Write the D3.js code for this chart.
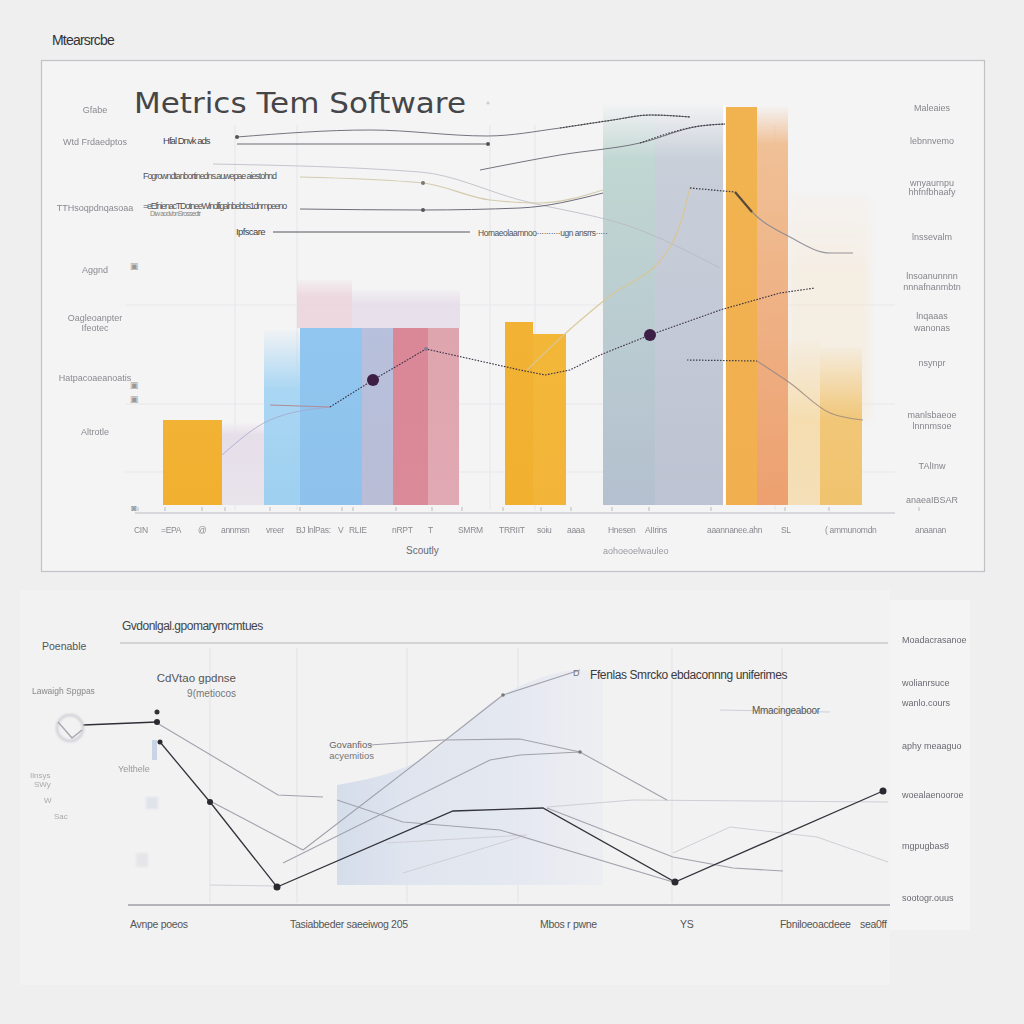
<!DOCTYPE html>
<html><head><meta charset="utf-8">
<script src="https://cdn.jsdelivr.net/npm/d3@7"></script>
<style>html,body{margin:0;padding:0;background:#efeff0;}svg{display:block;}</style>
</head><body><div id="chart"></div>
<script>
// ---------- TOP CHART DATA ----------
const barCategories = ["CIN","EPA","Annmsn","vreer","BJ","RLIE","nRPT","TRRIIT","soiu","Hnesen","AIIrins","aaann","SL","ammun","anaan"];
const barStart  = [2.8, 8.7, 12.9, 16.5, 22.7, 25.8, 29.3, 37.0, 39.8, 46.8, 52.0, 59.1, 62.2, 65.3, 68.5];
const barEnd    = [8.7, 12.9, 16.5, 22.7, 25.8, 29.3, 32.4, 39.8, 43.1, 52.0, 58.8, 62.2, 65.3, 68.5, 72.7];
const barValue  = [17, 14, 23, 35.4, 35.4, 35.4, 35.4, 36.6, 34.2, 69, 69, 79.6, 72, 17, 17];
const barFade   = [17, 16.5, 35, 35.4, 35.4, 35.4, 35.4, 36.6, 34.2, 80, 80, 79.6, 79.6, 33, 31.4];
const ghostStart = [16.2, 21.7, 50.0, 65.3];
const ghostEnd   = [21.7, 32.5, 55.5, 73.5];
const ghostLow   = [35.4, 35.4, 0, 17];
const ghostHigh  = [45, 43, 21, 62];

const lineMain  = [[13.5,20],[19.5,19.6],[23.8,25],[29.1,31.2],[38.5,27],[41,26],[43.5,27],[46.5,30],[51.5,34],[58.5,39],[64.5,42.4],[68,43.4]];
const lineMainLead = [[8.7,10],[13.5,17],[19.5,19.6]];
const mainDots = [2, 8];
const lineA  = [[10.2,73.6],[23.5,75],[35.2,73.8],[42.5,75.4],[47.8,77],[51.5,78],[55.5,77.6]];
const lineA2 = [[34.5,67],[42.5,70],[50.5,72.4],[56.5,75.8],[59,76.2]];
const lineB  = [[10.2,72.2],[35.3,72.2]];
const lineC  = [[7.8,68.2],[28.5,66.6],[38.5,61],[50.5,55],[58.5,47.4]];
const lineD  = [[16.5,65.6],[28.8,64.4],[35.5,61],[40.5,60.4],[46.8,63]];
const lineE  = [[16.5,59.2],[28.8,59],[38.5,59.4],[46.8,62.4]];
const lineF  = [[13.8,54.6],[33.5,54.6]];
const lineYel = [[39.2,27],[43.2,34.6],[47.2,41.4],[53.5,51.6],[55.2,61],[55.5,63.6]];
const lineR1 = [[55.5,63.4],[60,62.6],[61.7,58.6],[65.5,53.6],[69.5,50.4],[71.8,50.4]];
const lineR2 = [[55.2,29],[62.2,28.8],[65.5,24.4],[69.5,18.4],[72.8,17]];

const topTickLabels = [["CIN",-0.1],["=EPA",2.6],["@",6.3],["annmsn",8.6],["vreer",13.1],["BJ lnlPas:",16.1],["V",20.3],["RLIE",21.4],["nRPT",25.7],["T",29.3],["SMRM",32.3],["TRRIIT",36.4],["soiu",40.2],["aaaa",43.2],["Hnesen",47.3],["AIIrins",51],["aaannanee.ahn",57.2],["SL",64.6],["( ammunomdn",69],["anaanan",78]];
const topLeftLabels = [["Gfabe",79],["Wtd Frdaedptos",72.6],["TTHsoqpdnqasoaa",59.4],["Aggnd",47],["Oagleoanpter",37.4],["Ifeotec",35.4],["Hatpacoaeanoatis",25.4],["Altrotle",14.6]];
const topRightLabels = [["Maleaies",79.4],["lebnnvemo",72.8],["wnyaurnpu",64.4],["hhfnfbhaafy",62.6],["lnssevalm",53.6],["lnsoanunnnn",45.8],["nnnafnanmbtn",43.6],["lnqaaas",37.8],["wanonas",35.4],["nsynpr",28.4],["manlsbaeoe",18],["lnnnmsoe",15.8],["TAlInw",7.8],["anaeaIBSAR",1]];

// ---------- BOTTOM CHART DATA ----------
const lowDark1 = [[-4.5,36],[2.9,36.6]];
const lowDark2 = [[3.2,32.6],[8.2,20.6],[14.9,3.6],[32.5,18.8],[41.5,19.4],[54.7,4.6],[75.5,22.8]];
const lowGray = [
  [[2.9,36.4],[15,22],[19.5,21.6]],
  [[8.4,20.6],[17.5,11]],
  [[17.5,11],[29.2,29],[37.5,42],[45.2,47]],
  [[15.5,8.4],[36.2,29],[39.2,30],[45.2,30.6],[53.9,21]],
  [[24.2,32],[31.5,33],[39.2,33.2],[45.2,30.6]],
  [[41.9,19.4],[54.5,9.6],[60.5,7.4],[65.5,6.8]],
  [[20.9,21],[27.5,16.6],[37.2,15],[54.5,4.6]]
];
const lowFaint = [
  [[41.9,19.6],[50.5,21],[76,20.6]],
  [[54.5,10.4],[60.2,15.6],[68.9,13.6],[76,8.6]],
  [[27.5,6.4],[39.2,13.6]],
  [[25.9,12.4],[39.9,14]],
  [[8.2,4],[14.9,3.8]],
  [[59.2,39],[70.2,38.6]]
];
const shadeArea = [[20.9,24],[29.2,29],[37.5,42],[45.2,47],[47.5,46]];
const lowGridX = [8.2, 16.9, 27.9, 39, 54.4, 65.4];
const lowBottomLabels = [["Avnpe poeos",0.2],["Tasiabbeder saeeiwog  205",16.2],["Mbos r pwne",41.2],["YS",55.2],["Fbniloeoacdeee",65.2],["sea0ff",73.2]];
const lowRightLabels = [["Moadacrasanoe",53],["wolianrsuce",44.4],["wanlo.cours",40.4],["aphy meaaguo",31.8],["woealaenooroe",22],["mgpugbas8",11.8],["sootogr.ouus",1.4]];

// ---------- DRAW ----------
const W = 1024, H = 1024;
const FONT = "'Liberation Sans', Arial, sans-serif";
const svg = d3.select("#chart").append("svg").attr("width", W).attr("height", H)
  .style("font-family", FONT);
const defs = svg.append("defs");
defs.append("filter").attr("id","blur").append("feGaussianBlur").attr("stdDeviation",0.55);
defs.append("filter").attr("id","blur2").append("feGaussianBlur").attr("stdDeviation",1.1);
defs.append("filter").attr("id","soft").append("feGaussianBlur").attr("stdDeviation",4);

svg.append("rect").attr("width",W).attr("height",H).attr("fill","#efeff0");
svg.append("rect").attr("x",20).attr("y",590).attr("width",870).attr("height",395).attr("fill","#f2f2f3");
svg.append("rect").attr("x",890).attr("y",600).attr("width",80).attr("height",330).attr("fill","#f4f4f5");
svg.append("rect").attr("x",41.5).attr("y",60.5).attr("width",943).attr("height",511)
  .attr("fill","#f4f4f5").attr("stroke","#c2c2c6").attr("stroke-width",1.2);

svg.append("text").attr("x",52).attr("y",45).attr("font-size",14).attr("fill","#333")
  .attr("letter-spacing",-0.8).text("Mtearsrcbe");

// scales top
const xT = d3.scaleLinear().domain([0,76]).range([135,895]);
const yT = d3.scaleLinear().domain([0,81]).range([505,100]);

const g = svg.append("g");
// gridlines
[10, 16.2, 35.5, 40, 64].forEach(u => g.append("line").attr("x1",xT(u)).attr("x2",xT(u))
  .attr("y1",yT(76)).attr("y2",yT(-1)).attr("stroke","#e6e6ea").attr("stroke-width",1));
[20.2, 6.6, 40].forEach(v => g.append("line").attr("x1",xT(-1)).attr("x2",xT(76))
  .attr("y1",yT(v)).attr("y2",yT(v)).attr("stroke","#e8e8ec"));

// ghost bars
const ghostColors = ["#ecd3dc","#e5dbe7","#cfb9c7","#f7e6cf"];
const ghostOp = [0.85, 0.8, 0.6, 0.45];
ghostStart.forEach((s,i)=>{
  const id = "gh"+i;
  const lg = defs.append("linearGradient").attr("id",id).attr("x1",0).attr("y1",0).attr("x2",0).attr("y2",1);
  lg.append("stop").attr("offset","0%").attr("stop-color",ghostColors[i]).attr("stop-opacity",0.15);
  lg.append("stop").attr("offset","35%").attr("stop-color",ghostColors[i]).attr("stop-opacity",ghostOp[i]);
  lg.append("stop").attr("offset","100%").attr("stop-color",ghostColors[i]).attr("stop-opacity",ghostOp[i]);
  g.append("rect").attr("x",xT(s)).attr("width",xT(ghostEnd[i])-xT(s))
    .attr("y",yT(ghostHigh[i])).attr("height",yT(ghostLow[i])-yT(ghostHigh[i]))
    .attr("fill",`url(#${id})`).attr("filter", i===3 ? "url(#soft)" : null);
});

// bars
const barTop = ["#f2b233","#e6dfe9","#a9d6f3","#90c6ef","#b7c0dc","#da8797","#dfa5af","#f2b233","#f3b738","#c0d7d2","#c8cfd9","#f1b350","#f0c096","#f5ddb0","#f1c677"];
const barBot = ["#f1b030","#e9e3ec","#9fd0f0","#8ec2ec","#b9bdd6","#db8a99","#e1a9b3","#f1b030","#f2b53a","#b4c0cf","#bec3d3","#f2af50","#eda070","#f4dfb8","#f0c46e"];
barStart.forEach((s,i)=>{
  const id = "bg"+i;
  const top = barFade[i], solid = barValue[i];
  const lg = defs.append("linearGradient").attr("id",id).attr("x1",0).attr("y1",0).attr("x2",0).attr("y2",1);
  const frac = top > 0 ? (top - solid) / top : 0;
  lg.append("stop").attr("offset","0%").attr("stop-color",barTop[i]).attr("stop-opacity", frac > 0.001 ? 0.05 : 1);
  lg.append("stop").attr("offset",(frac*100)+"%").attr("stop-color",barTop[i]).attr("stop-opacity",1);
  lg.append("stop").attr("offset","100%").attr("stop-color",barBot[i]).attr("stop-opacity",1);
  g.append("rect").attr("x",xT(s)).attr("width",xT(barEnd[i])-xT(s))
    .attr("y",yT(top)).attr("height",yT(0)-yT(top)).attr("fill",`url(#${id})`);
});
// white separator between tall bars
g.append("line").attr("x1",xT(58.95)).attr("x2",xT(58.95)).attr("y1",yT(80)).attr("y2",yT(0))
  .attr("stroke","#ffffff").attr("stroke-width",2);

// axis
g.append("line").attr("x1",135).attr("x2",895).attr("y1",yT(-1.6)).attr("y2",yT(-1.6)).attr("stroke","#cfcfd3").attr("stroke-width",1.3);

const line = d3.line().x(d=>xT(d[0])).y(d=>yT(d[1])).curve(d3.curveMonotoneX);
const lineLin = d3.line().x(d=>xT(d[0])).y(d=>yT(d[1]));
function path(data, gen, stroke, w, dash, op){
  return g.append("path").attr("d",gen(data)).attr("fill","none").attr("stroke",stroke)
    .attr("stroke-width",w).attr("stroke-dasharray",dash||null).attr("opacity",op==null?1:op);
}
path(lineC, line, "#b9b9c3", 1, null, 0.8);
path(lineD, line, "#cfc6a4", 1.2, null, 0.9);
path(lineA, line, "#6e6e78", 1, null, 0.95);
path(lineA.slice(3), line, "#444", 1.2, "1.5,1.5");
path(lineA2, line, "#74747e", 1);
path(lineA2.slice(2), line, "#3a3a44", 1.2, "1.5,1.5");
path(lineB, lineLin, "#6a6a74", 1);
path(lineE, line, "#6d6d78", 1);
path(lineF, lineLin, "#55555f", 1);
path(lineYel, line, "#d8c795", 1.3, null, 0.9);
path(lineR1.slice(0,2), lineLin, "#3c3c44", 1.3, "1.5,1.5");
path(lineR1.slice(1), line, "#8b8a8f", 1.1, null, 0.9);
g.append("path").attr("d", lineLin([lineR1[1], lineR1[2]])).attr("stroke","#5a4a3a").attr("stroke-width",2.2);
path(lineR2.slice(0,2), lineLin, "#3c3c44", 1.2, "1.5,1.5");
path(lineR2.slice(1), line, "#9a8a80", 1.1, null, 0.85);
path(lineMainLead, line, "#a6a6cc", 1, null, 0.8);
path(lineMain.slice(0,2), lineLin, "#b08a98", 1.2);
path(lineMain.slice(1), lineLin, "#3a3044", 1.1, "1.6,1.4");
mainDots.forEach(i=>g.append("circle").attr("cx",xT(lineMain[i][0])).attr("cy",yT(lineMain[i][1]))
  .attr("r",6).attr("fill","#3d1f45"));
// small markers
[[lineA[0],"#555"],[lineB[1],"#555"],[lineE[1],"#555"],[lineD[1],"#777"],[lineMain[3],"#8b7a90"]].forEach(([p,c])=>
  g.append("circle").attr("cx",xT(p[0])).attr("cy",yT(p[1])).attr("r",2).attr("fill",c));

// title
svg.append("text").attr("x",134).attr("y",113).attr("font-size",28).attr("fill","#464648")
  .style("font-family","'DejaVu Sans', 'Liberation Sans', sans-serif")
  .attr("textLength",332).attr("lengthAdjust","spacingAndGlyphs").text("Metrics  Tem Software");
svg.append("circle").attr("cx",488).attr("cy",103).attr("r",1.5).attr("fill","#ccc");

// annotations
const ann = [["Hfal Dnvk ads",163,144,9.5,"#444"],["Fogrowndtanbortinedns.auwepae aiestohnd",143,179,9,"#555"],
  ["=eEfnienacTDotneeWinolfigalnbebbs1dnmpeeno",143,209,9,"#555"],["Diw aodvbnSrossedtr",150,216,7,"#888"],
  ["Ipfscare",236,235,9.5,"#444"],["Hornaeolaamnoo··········ugn  ansrrs·····",478,236,8.5,"#555"]];
ann.forEach(a=>svg.append("text").attr("x",a[1]).attr("y",a[2]).attr("font-size",a[3]).attr("fill",a[4])
  .attr("letter-spacing",-0.6).attr("textLength", a[0].length*a[3]*0.38).text(a[0]));

// left & right faint labels
topLeftLabels.forEach(l=>svg.append("text").attr("x",95).attr("y",yT(l[1])+3).attr("text-anchor","middle")
  .attr("font-size",9).attr("fill","#8a8a90").attr("filter","url(#blur)").text(l[0]));
[[48,"▣"],[24.2,"▣"],[21.4,"▣"],[-0.4,"◙"]].forEach(m=>svg.append("text").attr("x",134).attr("y",yT(m[0])+4)
  .attr("text-anchor","middle").attr("font-size",9).attr("fill","#999").text(m[1]));
topRightLabels.forEach(l=>svg.append("text").attr("x",932).attr("y",yT(l[1])+3).attr("text-anchor","middle")
  .attr("font-size",9).attr("fill","#86868c").attr("filter","url(#blur)").text(l[0]));
topTickLabels.forEach(l=>{
  svg.append("text").attr("x",xT(l[1])).attr("y",533).attr("font-size",8.5).attr("fill","#8a8a90")
    .attr("letter-spacing",-0.3).attr("filter","url(#blur)").text(l[0]);
  svg.append("line").attr("x1",xT(l[1])+4).attr("x2",xT(l[1])+4).attr("y1",507).attr("y2",511).attr("stroke","#bbb");
});
svg.append("text").attr("x",406).attr("y",554).attr("font-size",10).attr("fill","#6a6a70").text("Scoutly");
svg.append("text").attr("x",603).attr("y",554).attr("font-size",9).attr("fill","#9a9aa0").attr("filter","url(#blur)").text("aohoeoelwauleo");

// ---------- BOTTOM CHART ----------
const xB = d3.scaleLinear().domain([-10,76]).range([28,888]);
const yB = d3.scaleLinear().domain([0,52]).range([905,645]);
const gb = svg.append("g");
lowGridX.forEach(u=>gb.append("line").attr("x1",xB(u)).attr("x2",xB(u)).attr("y1",648).attr("y2",903)
  .attr("stroke","#e3e3e7"));
gb.append("line").attr("x1",120).attr("x2",888).attr("y1",643).attr("y2",643).attr("stroke","#cacace").attr("stroke-width",1.3);
gb.append("line").attr("x1",128).attr("x2",890).attr("y1",905).attr("y2",905).attr("stroke","#b4b4ba").attr("stroke-width",2);

// shaded area
const sg = defs.append("linearGradient").attr("id","shade").attr("x1",0).attr("y1",0).attr("x2",1).attr("y2",0);
sg.append("stop").attr("offset","0%").attr("stop-color","#d3dcea").attr("stop-opacity",0.95);
sg.append("stop").attr("offset","25%").attr("stop-color","#dde3ee").attr("stop-opacity",0.9);
sg.append("stop").attr("offset","70%").attr("stop-color","#e3e7f0").attr("stop-opacity",0.85);
sg.append("stop").attr("offset","100%").attr("stop-color","#e6e9f1").attr("stop-opacity",0.4);
gb.append("path").attr("d", d3.area().x(d=>xB(d[0])).y0(yB(4)).y1(d=>yB(d[1])).curve(d3.curveMonotoneX)(shadeArea))
  .attr("fill","url(#shade)");

const lb = d3.line().x(d=>xB(d[0])).y(d=>yB(d[1]));
lowFaint.forEach(l=>gb.append("path").attr("d",lb(l)).attr("fill","none").attr("stroke","#cfcfd6").attr("stroke-width",1));
lowGray.forEach(l=>gb.append("path").attr("d",lb(l)).attr("fill","none").attr("stroke","#a2a2ac").attr("stroke-width",1.1));
gb.append("path").attr("d",lb(lowDark1)).attr("fill","none").attr("stroke","#2e2e36").attr("stroke-width",1.5);
gb.append("path").attr("d",lb(lowDark2)).attr("fill","none").attr("stroke","#33333b").attr("stroke-width",1.3);
[[lowDark1[1],3],[lowDark2[0],2.5],[lowDark2[1],3],[lowDark2[2],3.5],[lowDark2[5],3.5],[lowDark2[6],3.5]].forEach(([p,r])=>
  gb.append("circle").attr("cx",xB(p[0])).attr("cy",yB(p[1])).attr("r",r).attr("fill","#2a2a30"));
gb.append("circle").attr("cx",xB(2.9)).attr("cy",yB(38.6)).attr("r",2.5).attr("fill","#333");
[[37.5,42],[45.2,30.6]].forEach(p=>gb.append("circle").attr("cx",xB(p[0])).attr("cy",yB(p[1])).attr("r",1.8).attr("fill","#777"));
// left decorations
gb.append("circle").attr("cx",70).attr("cy",728).attr("r",13).attr("fill","none").attr("stroke","#d0d0d6").attr("stroke-width",2.5).attr("filter","url(#blur2)");
gb.append("path").attr("d","M58,722 L72,738 L82,730").attr("fill","none").attr("stroke","#a9a9b2").attr("stroke-width",1.5).attr("filter","url(#blur)");
gb.append("rect").attr("x",146).attr("y",797).attr("width",12).attr("height",12).attr("fill","#e0e3ea").attr("filter","url(#blur2)");
gb.append("rect").attr("x",136).attr("y",853).attr("width",12).attr("height",14).attr("fill","#e6e6ea").attr("filter","url(#blur2)");
gb.append("rect").attr("x",152).attr("y",740).attr("width",5).attr("height",20).attr("fill","#c9d4e4");

svg.append("text").attr("x",122).attr("y",630).attr("font-size",12).attr("fill","#444").attr("letter-spacing",-0.5).text("Gvdonlgal.gpomarymcmtues");
svg.append("text").attr("x",42).attr("y",650).attr("font-size",10.5).attr("fill","#555").text("Poenable");
svg.append("text").attr("x",236).attr("y",682).attr("text-anchor","end").attr("font-size",11.5).attr("fill","#555").text("CdVtao gpdnse");
svg.append("text").attr("x",236).attr("y",697).attr("text-anchor","end").attr("font-size",10).attr("fill","#777").text("9(metiocos");
svg.append("text").attr("x",32).attr("y",694).attr("font-size",8.5).attr("fill","#888").attr("filter","url(#blur)").text("Lawaigh Spgpas");
svg.append("text").attr("x",118).attr("y",772).attr("font-size",9).attr("fill","#999").attr("filter","url(#blur)").text("Yelthele");
svg.append("text").attr("x",30).attr("y",778).attr("font-size",8).attr("fill","#aaa").attr("filter","url(#blur)").text("Ilnsys");
svg.append("text").attr("x",34).attr("y",787).attr("font-size",8).attr("fill","#aaa").attr("filter","url(#blur)").text("SWy");
svg.append("text").attr("x",44).attr("y",803).attr("font-size",8).attr("fill","#aaa").attr("filter","url(#blur)").text("W");
svg.append("text").attr("x",54).attr("y",819).attr("font-size",8).attr("fill","#aaa").attr("filter","url(#blur)").text("Sac");
svg.append("text").attr("x",372).attr("y",748).attr("text-anchor","end").attr("font-size",9.5).attr("fill","#666").text("Govanfios");
svg.append("text").attr("x",374).attr("y",759).attr("text-anchor","end").attr("font-size",9.5).attr("fill","#777").text("acyemitios");
svg.append("text").attr("x",573).attr("y",676).attr("font-size",9).attr("fill","#777").text("D");
svg.append("text").attr("x",590).attr("y",679).attr("font-size",12).attr("fill","#3a3a40").attr("letter-spacing",-0.4).text("Ffenlas Smrcko ebdaconnng uniferimes");
svg.append("text").attr("x",752).attr("y",714).attr("font-size",10).attr("fill","#555").attr("letter-spacing",-0.3).text("Mmacingeaboor");

lowBottomLabels.forEach(l=>svg.append("text").attr("x",xB(l[1])).attr("y",928).attr("font-size",10.5)
  .attr("fill","#555").attr("letter-spacing",-0.3).text(l[0]));
lowRightLabels.forEach(l=>svg.append("text").attr("x",902).attr("y",yB(l[1])+3).attr("font-size",9)
  .attr("fill","#6a6a72").attr("filter","url(#blur)").text(l[0]));
</script>
</body></html>
